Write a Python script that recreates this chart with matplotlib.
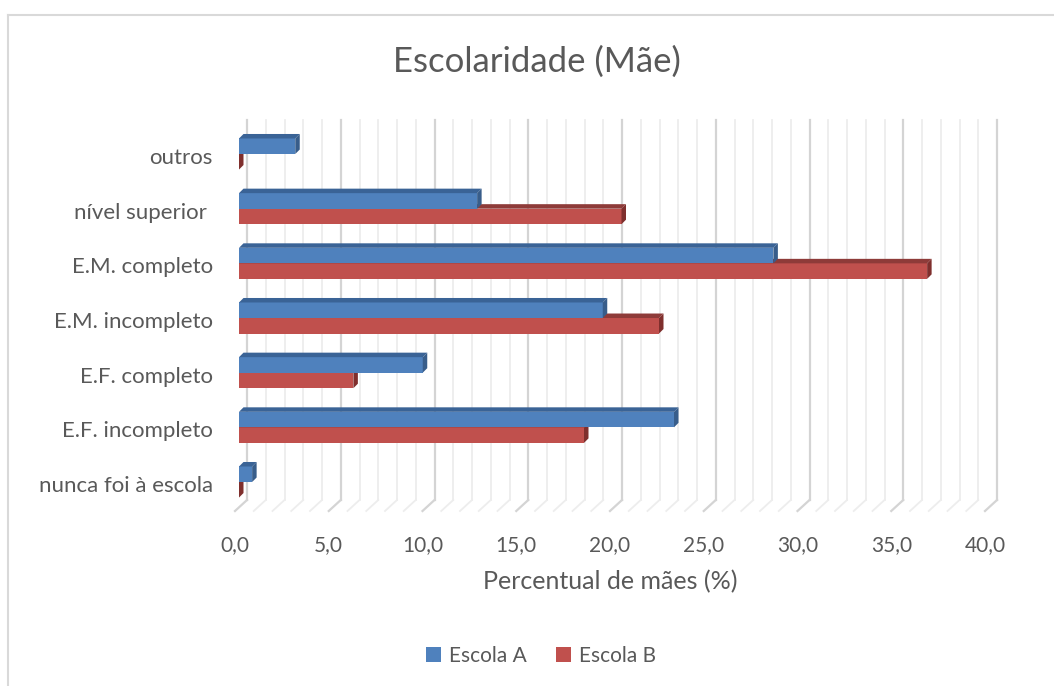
import numpy as np
import matplotlib
matplotlib.use("Agg")
from matplotlib import pyplot as plt
from matplotlib.patches import Polygon
from matplotlib.lines import Line2D

# data
categorias = ["nunca foi à escola", "E.F. incompleto", "E.F. completo",
              "E.M. incompleto", "E.M. completo", "nível superior ", "outros"]
escola_a = [0.7, 23.2, 9.8, 19.4, 28.5, 12.7, 3.0]
escola_b = [0.0, 18.4, 6.1, 22.4, 36.7, 20.4, 0.0]
series_nomes = ["Escola A", "Escola B"]
xticks = np.arange(0, 41, 5)

plt.rcParams['font.family'] = ['Lato', 'DejaVu Sans']
cinza_txt = '#595959'
fs = 15

W, H = 1054, 686
fig = plt.figure(figsize=(W / 100, H / 100), dpi=100)

# front plane of the 3d box, in pixels
x0_px, x1_px = 235, 985
ybot_px, ytop_px = 511, 131
ax = fig.add_axes([x0_px / W, 1 - ybot_px / H, (x1_px - x0_px) / W, (ybot_px - ytop_px) / H])
xmin, xmax = 0, 40
ymin, ymax = -0.457, 6.494
ax.set_xlim(xmin, xmax)
ax.set_ylim(ymin, ymax)
ax.axis('off')

# size of one pixel in data units
px = (xmax - xmin) / (x1_px - x0_px)
py = (ymax - ymin) / (ybot_px - ytop_px)
depth = 12  # wall depth in px
d1, d2 = 4, 8.5  # bar front / back depth

# back wall gridlines + floor lines
for v in range(0, 41):
    major = v % 5 == 0
    c = '#D4D4D4' if major else '#EDEDED'
    lw = 1.6 if major else 1.3
    ax.plot([v + depth * px, v + depth * px], [ymin + 11 * py, ymax + 11 * py],
            color=c, lw=lw, clip_on=False, zorder=1)
    ax.plot([v, v + depth * px], [ymin, ymin + 11 * py],
            color=c, lw=lw, clip_on=False, zorder=1)

h = 0.284
cores = [('#4F81BD', '#3A6396', '#385D8A'), ('#C0504D', '#8E3B39', '#7F2F2D')]
y = np.arange(len(categorias))
for k, vals in enumerate([escola_a, escola_b]):
    face, topc, sidec = cores[k]
    yc = y + h / 2 if k == 0 else y - h / 2
    z = 4 if k == 0 else 3  # blue sits above, its front hides red's top
    for yi, v in zip(yc, vals):
        b, t = yi - h / 2, yi + h / 2
        fx, fy = d1 * px, d1 * py
        bx, by = d2 * px, d2 * py
        front = [(fx, b + fy), (v + fx, b + fy), (v + fx, t + fy), (fx, t + fy)]
        top = [(fx, t + fy), (v + fx, t + fy), (v + bx, t + by), (bx, t + by)]
        side = [(v + fx, b + fy), (v + bx, b + by), (v + bx, t + by), (v + fx, t + fy)]
        if v > 0:
            ax.add_patch(Polygon(front, closed=True, fc=face, ec='none', zorder=z, clip_on=False))
            ax.add_patch(Polygon(top, closed=True, fc=topc, ec='none', zorder=z, clip_on=False))
        ax.add_patch(Polygon(side, closed=True, fc=sidec, ec='none', zorder=z, clip_on=False))

# category labels
for yi, lab in zip(y, categorias):
    ax.text(-22 * px, yi, lab, ha='right', va='center', fontsize=16, color=cinza_txt)

# tick labels
for v in xticks:
    ax.text(v, ymin - 34 * py, f"{v:.1f}".replace('.', ','), ha='center', va='center',
            fontsize=fs, color=cinza_txt)

ax.text(0.5 * (xmin + xmax), ymin - 71 * py, "Percentual de mães (%)", ha='center', va='center',
        fontsize=18, color=cinza_txt)

fig.text(537 / W, 1 - 62 / H, "Escolaridade (Mãe)", ha='center', va='center',
         fontsize=25, color=cinza_txt)

# legend
handles = [plt.Rectangle((0, 0), 1, 1, fc=cores[0][0]), plt.Rectangle((0, 0), 1, 1, fc=cores[1][0])]
fig.legend(handles, series_nomes, loc='center', bbox_to_anchor=(541 / W, 1 - 656 / H), ncol=2,
           frameon=False, fontsize=fs, labelcolor=cinza_txt, handlelength=0.7, handleheight=0.7,
           handletextpad=0.4, columnspacing=1.4)

# chart border (left and top only visible)
fig.add_artist(Line2D([8 / W, 8 / W], [0, 1 - 15 / H], color='#D9D9D9', lw=1.5))
fig.add_artist(Line2D([8 / W, 1], [1 - 15 / H, 1 - 15 / H], color='#D9D9D9', lw=1.5))

fig.savefig('out.png', dpi=100)
